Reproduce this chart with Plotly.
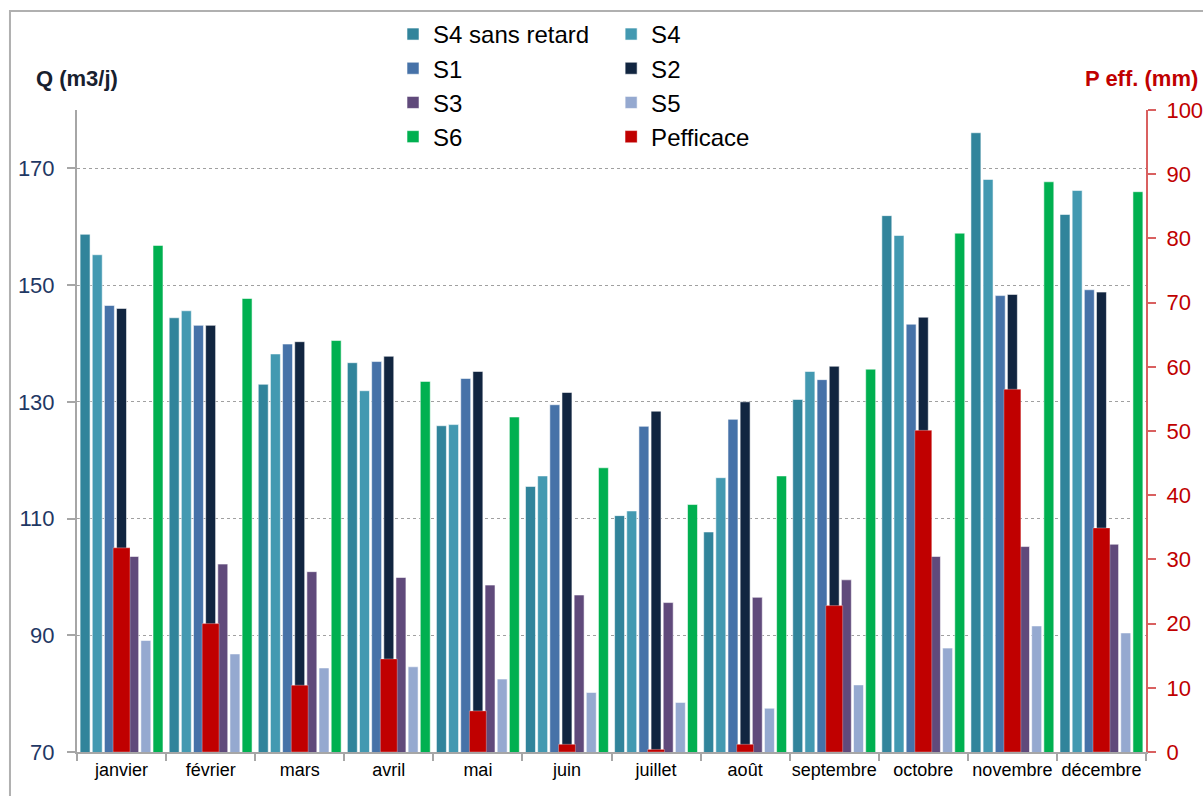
import plotly.graph_objects as go

mois = ["janvier", "février", "mars", "avril", "mai", "juin", "juillet",
        "août", "septembre", "octobre", "novembre", "décembre"]

s4_sans_retard = [158.7, 144.4, 133.0, 136.7, 125.9, 115.5, 110.5, 107.7, 130.4, 161.9, 176.1, 162.1]
s4 = [155.2, 145.6, 138.2, 131.9, 126.1, 117.3, 111.3, 117.0, 135.2, 158.5, 168.1, 166.2]
s1 = [146.5, 143.1, 139.9, 136.9, 134.0, 129.5, 125.8, 127.0, 133.8, 143.3, 148.2, 149.2]
s2 = [146.0, 143.1, 140.3, 137.8, 135.2, 131.6, 128.4, 130.0, 136.1, 144.5, 148.4, 148.8]
s3 = [103.5, 102.2, 100.9, 99.9, 98.6, 96.9, 95.6, 96.5, 99.5, 103.5, 105.2, 105.6]
s5 = [89.1, 86.8, 84.4, 84.6, 82.5, 80.2, 78.5, 77.5, 81.5, 87.8, 91.6, 90.4]
s6 = [156.8, 147.7, 140.5, 133.5, 127.4, 118.7, 112.4, 117.3, 135.6, 158.9, 167.7, 166.0]
p_eff = [31.8, 20.0, 10.4, 14.5, 6.4, 1.2, 0.4, 1.2, 22.8, 50.1, 56.5, 34.9]

# (name, values, colour, legend column)
series = [
    ("S4 sans retard", s4_sans_retard, "#31849B", "legend"),
    ("S4", s4, "#4399B1", "legend2"),
    ("S1", s1, "#4672A8", "legend"),
    ("S2", s2, "#112540", "legend2"),
    ("S3", s3, "#604A7B", "legend"),
    ("S5", s5, "#95A9D0", "legend2"),
    ("S6", s6, "#00B050", "legend"),
]

fig = go.Figure()

for name, vals, color, leg in series:
    fig.add_trace(go.Bar(
        x=mois, y=vals, name=name,
        marker=dict(color=color, line=dict(color="rgba(255,255,255,0.55)", width=1)),
        legend=leg, legendgroup=name,
    ))

# Pefficace on the secondary axis, centred in each month
fig.add_trace(go.Bar(
    x=mois, y=p_eff, name="Pefficace", yaxis="y2",
    width=0.19,
    marker=dict(color="#C00000", line=dict(color="rgba(255,255,255,0.3)", width=1)),
    legend="legend2", legendgroup="Pefficace",
))

font_main = "Arial, Liberation Sans, sans-serif"
leg_font = dict(size=24, family=font_main, color="#000000")

fig.update_layout(
    width=1203, height=796,
    margin=dict(l=77, r=57, t=110, b=44, autoexpand=False),
    paper_bgcolor="white", plot_bgcolor="white",
    font=dict(family=font_main, color="#000000"),
    barmode="group", bargap=0.045, bargroupgap=0.18,
    xaxis=dict(
        automargin=False, tickangle=0,
        showline=True, linecolor="#A6A6A6", linewidth=2,
        ticks="outside", tickson="boundaries", ticklen=7, tickcolor="#A6A6A6", tickwidth=2,
        tickfont=dict(size=18, color="#000000"),
        showgrid=False,
    ),
    yaxis=dict(
        automargin=False,
        range=[70, 180], tickvals=[70, 90, 110, 130, 150, 170],
        showline=True, linecolor="#A6A6A6", linewidth=2,
        ticks="outside", ticklen=8, tickcolor="#A6A6A6", tickwidth=2,
        ticklabelstandoff=8,
        tickfont=dict(size=22, color="#1F3864"),
        showgrid=True, gridcolor="#A0A0A0", griddash="dot", gridwidth=1,
        zeroline=False,
    ),
    yaxis2=dict(
        automargin=False,
        range=[0, 100], dtick=10, overlaying="y", side="right",
        showline=True, linecolor="#D96060", linewidth=2,
        ticks="outside", ticklen=8, tickcolor="#D96060", tickwidth=2,
        ticklabelstandoff=6,
        tickfont=dict(size=22, color="#C00000"),
        showgrid=False, zeroline=False,
    ),
    legend=dict(
        xref="container", yref="container",
        x=0.3267, y=0.985, xanchor="left", yanchor="top",
        font=leg_font, tracegroupgap=0,
        bgcolor="rgba(0,0,0,0)",
    ),
    legend2=dict(
        xref="container", yref="container",
        x=0.508, y=0.985, xanchor="left", yanchor="top",
        font=leg_font, tracegroupgap=0,
        bgcolor="rgba(0,0,0,0)",
    ),
    annotations=[
        dict(text="<b>Q (m3/j)</b>", xref="paper", yref="paper",
             x=-0.0402, y=1.0498, xanchor="left", yanchor="middle", showarrow=False,
             font=dict(size=22, color="#17202E")),
        dict(text="<b>P eff. (mm)</b>", xref="paper", yref="paper",
             x=1.0505, y=1.0498, xanchor="right", yanchor="middle", showarrow=False,
             font=dict(size=22, color="#C00000")),
    ],
    shapes=[
        dict(type="rect", xref="paper", yref="paper",
             x0=-0.0627, x1=1.1, y0=-0.2, y1=1.1542,
             line=dict(color="#B0B0B0", width=2), fillcolor="rgba(0,0,0,0)", layer="below"),
    ],
)

# remove the default page margin so the figure sits at the window's top-left corner
fig.write_html("out.html", config={"displayModeBar": False},
               post_script="document.body.style.margin='0';")
